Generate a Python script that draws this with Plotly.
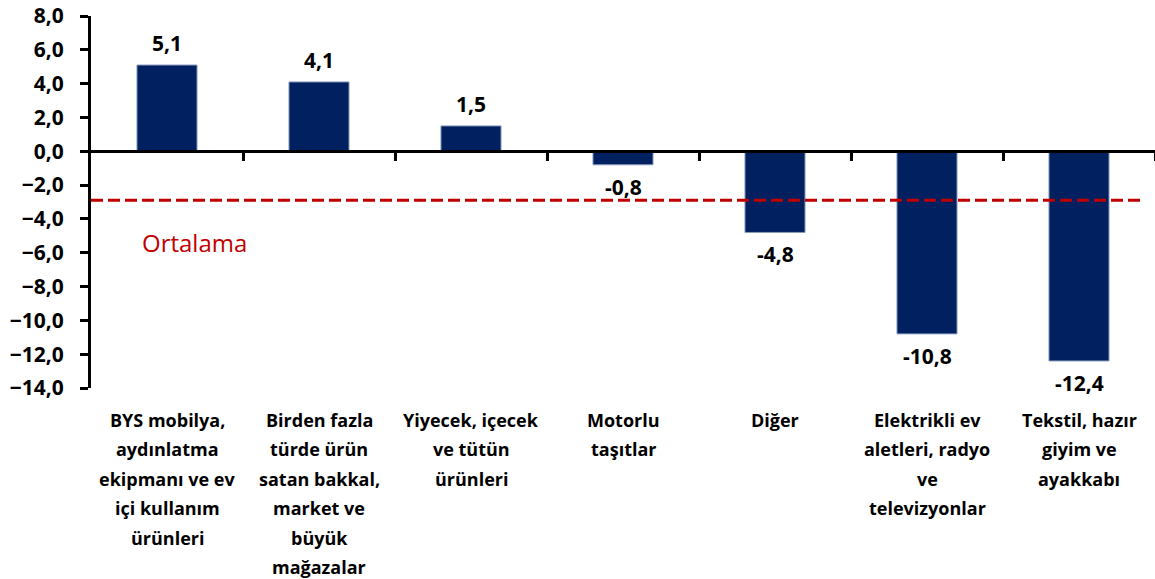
import plotly.graph_objects as go

categories = [
    "BYS mobilya,<br>aydınlatma<br>ekipmanı ve ev<br>içi kullanım<br>ürünleri",
    "Birden fazla<br>türde ürün<br>satan bakkal,<br>market ve<br>büyük<br>mağazalar",
    "Yiyecek, içecek<br>ve tütün<br>ürünleri",
    "Motorlu<br>taşıtlar",
    "Diğer",
    "Elektrikli ev<br>aletleri, radyo<br>ve<br>televizyonlar",
    "Tekstil, hazır<br>giyim ve<br>ayakkabı",
]
values = [5.1, 4.1, 1.5, -0.8, -4.8, -10.8, -12.4]
ortalama = -2.9
ortalama_label = "Ortalama"
y_ticks = [-14, -12, -10, -8, -6, -4, -2, 0, 2, 4, 6, 8]

FONT = "Open Sans"
W, H = 1155, 579
ML, MR, MT, MB = 91, 0, 16, 191
ymin, ymax = min(y_ticks), max(y_ticks)

fig = go.Figure()
fig.add_trace(go.Bar(
    x=list(range(len(values))), y=values,
    marker=dict(color="#002060", line=dict(color="#8a9bbd", width=1)),
    width=0.395, hoverinfo="skip",
))

# value labels
for i, v in enumerate(values):
    fig.add_annotation(
        x=i, y=v, xref="x", yref="y",
        text=f"<b>{v:.1f}</b>".replace(".", ","),
        showarrow=False, yanchor="middle",
        yshift=22 if v > 0 else -22,
        font=dict(family=FONT, size=21, color="black"),
    )

# category labels (line by line, ~29.4px spacing)
for i, c in enumerate(categories):
    for j, line in enumerate(c.split("<br>")):
        fig.add_annotation(
            x=i, y=0, xref="x", yref="paper",
            text=f"<b>{line}</b>", showarrow=False,
            yanchor="middle", yshift=-(32 + 29.4 * j),
            font=dict(family=FONT, size=18, color="black"),
        )

# average line
fig.add_shape(type="line", xref="paper", yref="y", x0=0, x1=0.989,
              y0=ortalama, y1=ortalama,
              line=dict(color="#c00000", width=3, dash="12px,5px"))
fig.add_annotation(x=0.18, y=ortalama - 2.5, xref="x", yref="y",
                   text=ortalama_label, showarrow=False,
                   font=dict(family=FONT, size=24, color="#c00000"))

zero_pos = (0 - ymin) / (ymax - ymin)

fig.update_layout(
    width=W, height=H,
    margin=dict(l=ML, r=MR, t=MT, b=MB),
    paper_bgcolor="white", plot_bgcolor="white",
    showlegend=False,
    separators=",.",
    xaxis=dict(
        range=[-0.5, len(values) - 0.5],
        tickmode="array", tickvals=[i + 0.5 for i in range(len(values))],
        showticklabels=False, ticks="outside", ticklen=8, tickwidth=3,
        tickcolor="black", showline=True, linecolor="black", linewidth=3,
        showgrid=False, zeroline=False,
        anchor="free", position=zero_pos,
    ),
    yaxis=dict(
        range=[ymin, ymax], tickmode="array", tickvals=y_ticks,
        tickformat=".1f", ticks="outside", ticklen=8, tickwidth=3,
        tickcolor="black", showline=True, linecolor="black", linewidth=3,
        showgrid=False, zeroline=False,
        tickfont=dict(family=FONT, size=21, color="black", weight="bold"),
        ticklabelstandoff=12,
    ),
)

fig.write_html("out.html", config={"displayModeBar": False},
               post_script="document.body.style.margin='0';")
